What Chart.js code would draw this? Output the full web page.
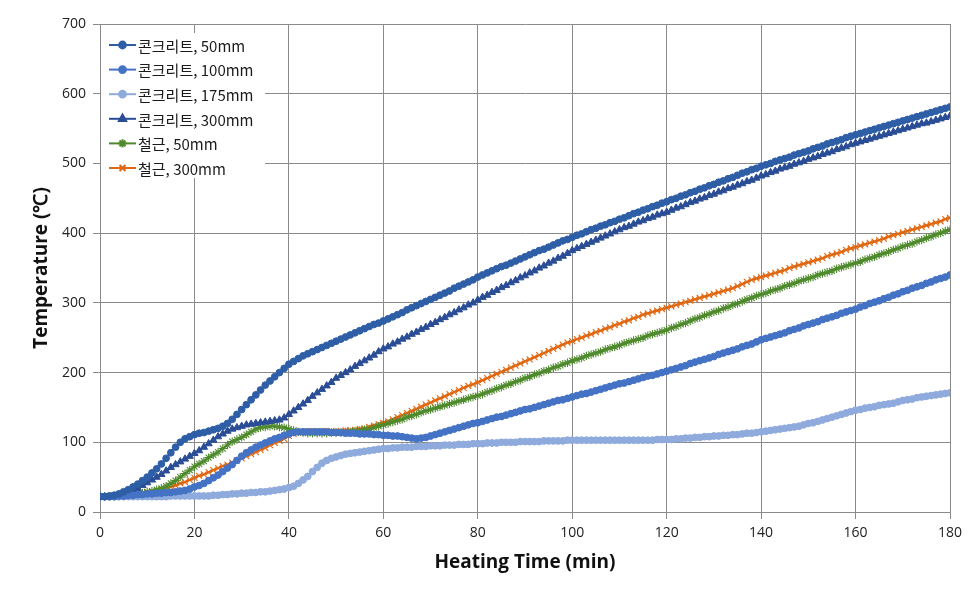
<!DOCTYPE html>
<html>
<head>
<meta charset="utf-8">
<script src="https://cdn.jsdelivr.net/npm/chart.js@4"></script>
<style>
html,body{margin:0;padding:0;background:#fff;}
#wrap{width:976px;height:593px;position:relative;}
</style>
</head>
<body>
<div id="wrap"><canvas id="c" width="976" height="593"></canvas></div>
<script>
// Heating time (min)
const times = [
0,1,2,3,4,5,6,7,8,9,10,11,12,13,14,15,16,17,18,19,
20,21,22,23,24,25,26,27,28,29,30,31,32,33,34,35,36,37,38,39,
40,41,42,43,44,45,46,47,48,49,50,51,52,53,54,55,56,57,58,59,
60,61,62,63,64,65,66,67,68,69,70,71,72,73,74,75,76,77,78,79,
80,81,82,83,84,85,86,87,88,89,90,91,92,93,94,95,96,97,98,99,
100,101,102,103,104,105,106,107,108,109,110,111,112,113,114,115,116,117,118,119,
120,121,122,123,124,125,126,127,128,129,130,131,132,133,134,135,136,137,138,139,
140,141,142,143,144,145,146,147,148,149,150,151,152,153,154,155,156,157,158,159,
160,161,162,163,164,165,166,167,168,169,170,171,172,173,174,175,176,177,178,179,
180];

const seriesNames = ['콘크리트, 50mm','콘크리트, 100mm','콘크리트, 175mm','콘크리트, 300mm','철근, 50mm','철근, 300mm'];

const concrete50 = [
22,22,23,24,26,29,32,36,40,45,
50,56,62,69,77,85,93,100,105,108,
111,113,114,116,118,120,123,127,133,140,
147,154,161,168,175,182,188,194,200,206,
212,216,220,224,227,230,233,236,239,242,
245,248,251,254,257,260,263,266,269,271,
274,277,280,283,286,290,293,296,299,302,
305,308,311,314,317,321,324,327,330,333,
337,340,343,346,349,352,354,357,360,363,
366,369,372,375,377,380,383,386,389,391,
394,397,399,402,405,407,410,412,415,417,
420,422,425,428,430,433,435,438,440,443,
445,448,450,453,455,458,460,463,465,468,
470,473,475,478,480,483,486,488,491,493,
496,498,500,503,505,507,509,512,514,516,
518,521,523,525,528,530,532,534,537,539,
541,543,545,547,549,551,553,555,557,559,
561,563,565,567,569,571,573,575,577,579,
581];

const concrete100 = [
22,22,22,22,23,23,24,24,25,25,
26,26,27,27,28,28,29,30,31,33,
36,38,41,45,49,53,58,63,68,74,
80,85,89,93,96,99,102,105,107,110,
112,114,115,115,115,115,115,115,115,114,
114,114,113,113,113,112,112,112,111,111,
110,110,109,109,108,107,106,105,106,107,
109,111,113,115,117,119,121,123,125,127,
128,130,132,134,136,137,139,141,143,145,
147,148,150,152,154,156,158,160,161,163,
165,167,169,170,172,174,176,178,180,182,
184,185,187,189,191,193,195,196,198,200,
202,204,206,208,210,213,215,217,219,221,
223,226,228,230,232,234,237,239,241,244,
247,249,251,253,255,257,260,262,264,267,
269,271,273,276,278,280,282,285,287,289,
291,294,296,299,301,303,306,308,311,313,
316,318,321,323,325,328,330,333,335,337,
340];

const concrete175 = [
22,22,22,22,22,22,22,22,22,22,
22,22,22,22,22,23,23,23,23,23,
23,23,23,23,24,24,25,25,26,26,
27,27,28,28,29,29,30,31,32,33,
35,37,41,46,51,58,64,70,74,77,
79,81,83,84,85,86,87,88,89,90,
91,91,92,92,93,93,93,94,94,94,
95,95,95,96,96,96,97,97,97,98,
98,98,99,99,99,100,100,100,100,101,
101,101,101,101,102,102,102,102,102,103,
103,103,103,103,103,103,103,103,103,103,
103,103,103,103,103,103,103,103,104,104,
104,104,105,105,106,106,107,107,108,108,
109,109,110,110,111,111,112,113,113,114,
115,116,117,118,119,120,121,122,123,125,
127,128,130,132,134,136,138,140,142,144,
146,147,149,150,151,153,154,155,156,158,
160,161,162,164,165,166,167,168,169,170,
171];

const concrete300 = [
22,22,22,23,24,26,28,31,34,38,
42,46,50,54,59,64,68,72,76,80,
84,88,93,98,103,108,112,116,119,121,
123,125,126,127,128,129,130,131,132,135,
140,145,150,155,160,166,171,176,181,186,
192,196,200,204,209,213,217,221,225,230,
234,237,241,244,248,251,255,258,262,265,
269,272,276,279,283,286,290,293,297,300,
304,308,311,315,318,322,325,329,332,336,
339,343,346,350,353,357,360,364,367,371,
375,378,381,384,387,390,393,396,399,402,
405,408,410,413,416,418,421,423,426,428,
430,433,436,438,441,444,446,449,451,454,
456,459,461,464,466,469,471,474,476,479,
482,484,487,489,492,494,496,499,501,503,
506,508,510,513,515,517,520,522,524,527,
529,531,533,535,537,539,541,543,545,547,
549,551,553,555,557,558,560,562,564,566,
568];

const rebar50 = [
22,22,22,23,23,24,24,25,26,27,
29,30,32,34,37,41,45,50,55,60,
65,69,73,78,82,86,91,96,101,104,
107,111,115,119,121,122,123,123,122,121,
119,117,115,114,113,113,113,113,113,114,
114,114,115,115,116,117,118,119,121,123,
125,127,129,131,133,136,138,140,143,145,
147,149,151,153,155,157,159,161,163,165,
167,169,172,174,177,179,182,184,187,189,
192,194,197,199,202,204,207,209,212,214,
217,219,221,224,226,228,230,233,235,237,
239,242,244,246,248,250,253,255,257,259,
261,264,266,269,271,274,277,279,282,284,
287,289,292,294,297,299,302,305,307,310,
312,314,317,319,321,324,326,328,331,333,
335,337,340,342,344,346,349,351,353,355,
357,359,362,364,366,369,371,373,376,378,
381,383,385,388,390,393,395,398,400,403,
405];

const rebar300 = [
22,22,22,23,23,24,24,25,26,27,
28,29,30,32,34,36,38,41,43,46,
49,52,54,57,60,63,66,68,71,74,
77,80,83,86,89,92,96,99,102,105,
109,112,114,115,116,116,116,116,116,116,
116,116,117,117,118,119,120,122,124,126,
128,130,133,136,139,142,145,148,151,154,
157,160,163,166,169,172,175,178,181,183,
186,189,192,195,198,201,204,207,210,213,
216,219,222,225,228,231,234,237,240,243,
245,248,250,253,255,258,260,263,265,268,
270,273,275,278,280,283,285,287,289,291,
293,295,297,299,301,303,305,307,309,311,
313,315,317,319,321,324,327,330,333,335,
337,339,341,343,345,347,350,352,354,356,
358,360,362,364,367,369,371,373,376,378,
380,382,384,386,388,390,392,395,397,399,
401,403,405,407,409,411,413,415,417,420,
422];

const xTicks = [0,20,40,60,80,100,120,140,160,180];
const yTicks = [0,100,200,300,400,500,600,700];

const seriesValues = [concrete50, concrete100, concrete175, concrete300, rebar50, rebar300];
const colors = ['#2E5FA6','#4472C4','#8FAADC','#2A4D95','#4E8A2C','#E0660F'];
const styles = ['circle','circle','circle','triangle','star','crossRot'];
const radii = [3.4,3.4,3.4,4.2,4.2,4.2];

function toPoints(vals){ return vals.map((v,i)=>({x:times[i], y:v})); }

const datasets = seriesValues.map((vals,i)=>({
  label: seriesNames[i],
  data: toPoints(vals),
  borderColor: colors[i],
  backgroundColor: colors[i],
  borderWidth: 2,
  pointStyle: styles[i],
  pointRadius: radii[i],
  pointBorderWidth: (styles[i]==='star'||styles[i]==='crossRot') ? 1.1 : 1,
  pointBorderColor: colors[i],
  pointBackgroundColor: colors[i],
  tension: 0
}));

const legendPlugin = {
  id: 'insideLegend',
  beforeDatasetsDraw(chart){
    const ctx = chart.ctx;
    const area = chart.chartArea;
    ctx.save();
    ctx.fillStyle = '#ffffff';
    ctx.fillRect(area.left + 1, 33, 164, 145);
    const startY = 45, step = 24.6;
    chart.data.datasets.forEach((ds,i)=>{
      const y = startY + i*step;
      ctx.strokeStyle = ds.borderColor;
      ctx.lineWidth = 2;
      ctx.beginPath();
      ctx.moveTo(109, y);
      ctx.lineTo(136, y);
      ctx.stroke();
      ctx.fillStyle = ds.backgroundColor;
      ctx.strokeStyle = ds.borderColor;
      Chart.helpers.drawPoint(ctx, {pointStyle: ds.pointStyle, radius: ds.pointRadius, rotation: 0, borderWidth: ds.pointBorderWidth}, 122.5, y);
      ctx.fillStyle = '#1a1a1a';
      ctx.font = '15px "Noto Sans CJK KR", "Noto Sans", sans-serif';
      ctx.textBaseline = 'middle';
      ctx.textAlign = 'left';
      ctx.fillText(ds.label, 138, y + 1);
    });
    ctx.restore();
  }
};

const gridColor = '#8a8a8a';

new Chart(document.getElementById('c'), {
  type: 'line',
  data: { datasets },
  plugins: [legendPlugin],
  options: {
    responsive: false,
    animation: false,
    devicePixelRatio: 1,
    layout: { padding: { top: 24, right: 26, left: 0, bottom: 0 } },
    plugins: { legend: { display: false }, tooltip: { enabled: false } },
    scales: {
      x: {
        type: 'linear',
        min: 0, max: 180,
        afterBuildTicks(s){ s.ticks = xTicks.map(v=>({value:v})); },
        afterFit(s){ s.height = 81; },
        grid: { color: gridColor, lineWidth: 1, tickLength: 7, drawTicks: true },
        border: { color: gridColor, width: 1 },
        ticks: { color: '#222', font: { family: '"Open Sans", sans-serif', size: 14 }, padding: 6, maxRotation: 0 },
        title: { display: true, text: 'Heating Time (min)', color: '#111', font: { family: '"Open Sans", sans-serif', size: 19, weight: 'bold' }, padding: { top: 0, bottom: 19 } }
      },
      y: {
        type: 'linear',
        min: 0, max: 700,
        afterBuildTicks(s){ s.ticks = yTicks.map(v=>({value:v})); },
        afterFit(s){ s.width = 100; },
        grid: { color: gridColor, lineWidth: 1, tickLength: 7 },
        border: { color: gridColor, width: 1 },
        ticks: { color: '#222', font: { family: '"Open Sans", sans-serif', size: 14 }, padding: 7 },
        title: { display: true, text: 'Temperature (℃)', color: '#111', font: { family: '"Open Sans", sans-serif', size: 19, weight: 'bold' }, padding: { top: 30, bottom: 0 } }
      }
    }
  }
});
</script>
</body>
</html>
